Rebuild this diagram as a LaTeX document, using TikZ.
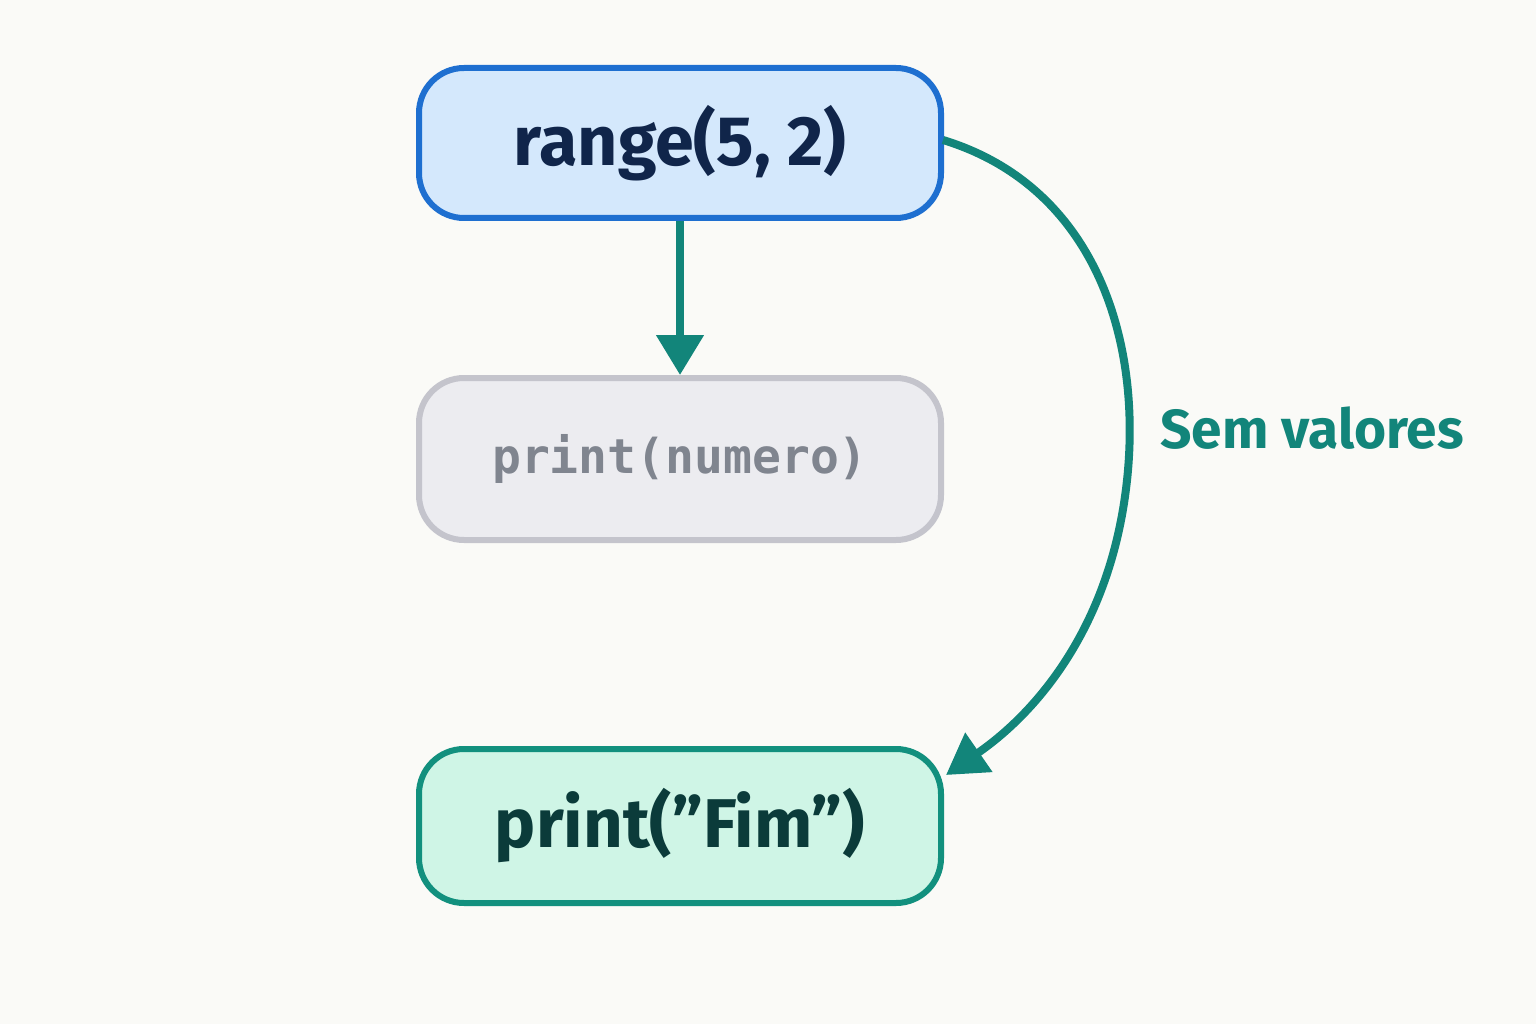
\documentclass[tikz,border=0pt]{standalone}
\usepackage{fontspec}
\setmainfont{Fira Sans}
\newfontfamily\mono{DejaVu Sans Mono}
\usetikzlibrary{arrows.meta}
\definecolor{bg}{HTML}{FAFAF7}
\definecolor{bluef}{HTML}{D4E8FC}
\definecolor{blued}{HTML}{1E6FD0}
\definecolor{navy}{HTML}{10254A}
\definecolor{grayf}{HTML}{ECECF0}
\definecolor{grayd}{HTML}{C4C4CC}
\definecolor{grayt}{HTML}{80858F}
\definecolor{greenf}{HTML}{CFF5E6}
\definecolor{teal}{HTML}{12907E}
\definecolor{tealt}{HTML}{0B3B3A}
\definecolor{arr}{HTML}{12857A}
\begin{document}
\begin{tikzpicture}[x=1pt,y=-1pt,
 box/.style={draw,line width=6pt,rounded corners=45pt,minimum width=522pt,inner sep=0pt},
 conn/.style={draw=arr,line width=8pt,-{Triangle[length=40pt,width=46pt]}}]
\fill[bg] (0,0) rectangle (1536,1024);
\useasboundingbox (0,0) rectangle (1536,1024);
\node[box,fill=bluef,draw=blued,minimum height=150pt,text=navy,font=\bfseries\fontsize{70}{72}\selectfont] (r) at (680,143) {range(5, 2)};
\node[box,fill=grayf,draw=grayd,minimum height=162pt,text=grayt,font=\mono\bfseries\fontsize{48}{50}\selectfont] (p) at (680,459) {print(numero)};
\node[box,fill=greenf,draw=teal,minimum height=154pt,text=tealt,font=\bfseries\fontsize{69}{72}\selectfont] (f) at (680,826) {print(\char34\relax Fim\char34\relax)};
\draw[conn] (r.south) -- (p.north);
\coordinate (s) at (943,140);
\coordinate (e) at (946,775);
\draw[conn] (s) .. controls (1090,185) and (1140,330) .. (1128,470) .. controls (1115,620) and (1040,710) .. (e);
\node[text=arr,font=\bfseries\fontsize{55}{57}\selectfont] (l) at (1312,428) {Sem valores};
\end{tikzpicture}
\end{document}
